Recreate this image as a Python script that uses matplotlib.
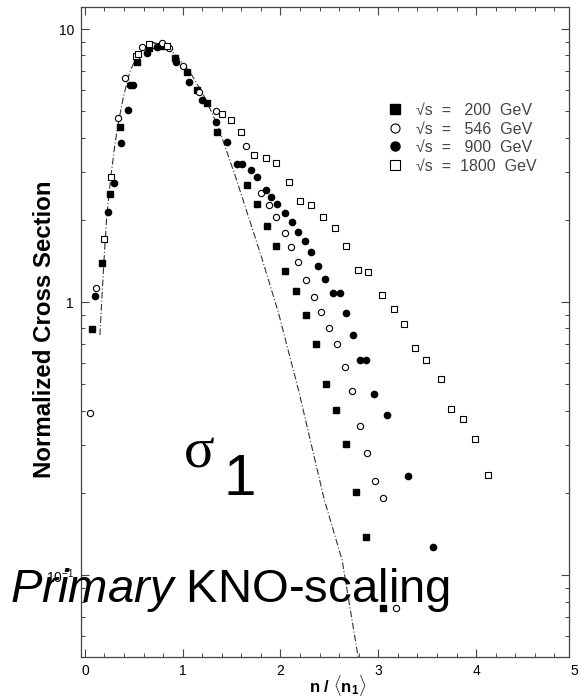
import matplotlib
matplotlib.use("Agg")
import matplotlib.pyplot as plt
from matplotlib.ticker import FixedLocator, FixedFormatter, LogLocator, MultipleLocator, NullFormatter

plt.rcParams['font.family'] = ['Liberation Sans', 'DejaVu Sans']
plt.rcParams['mathtext.fontset'] = 'custom'
plt.rcParams['mathtext.rm'] = 'Liberation Sans'
plt.rcParams['mathtext.it'] = 'Liberation Sans:italic'
plt.rcParams['mathtext.bf'] = 'Liberation Sans:bold'

# KNO fit curve (n/<n>, normalized cross section)
fit_x = [0.153, 0.173, 0.194, 0.224, 0.265, 0.306, 0.347, 0.398, 0.459, 0.531,
         0.612, 0.704, 0.786, 0.857, 0.959, 1.092, 1.235, 1.367, 1.541, 1.806,
         1.980, 2.184, 2.449, 2.630, 2.794]
fit_y = [0.757, 1.02, 1.40, 2.08, 2.87, 3.76, 4.64, 5.73, 6.96, 7.96,
         8.59, 8.89, 8.81, 8.51, 7.83, 6.79, 5.54, 4.34, 2.87, 1.46,
         0.911, 0.476, 0.188, 0.1135, 0.0501]

# sqrt(s) = 200 GeV
x200 = [0.071, 0.173, 0.255, 0.357, 0.531, 0.653, 0.776, 0.918, 1.041, 1.143,
        1.245, 1.347, 1.653, 1.755, 1.857, 1.959, 2.051, 2.163, 2.265, 2.367,
        2.469, 2.571, 2.673, 2.776, 2.878, 3.051]
y200 = [0.796, 1.39, 2.49, 4.38, 7.57, 8.52, 8.67, 7.83, 6.96, 5.98,
        5.36, 4.20, 2.68, 2.29, 1.90, 1.60, 1.30, 1.10, 0.896, 0.702,
        0.501, 0.402, 0.302, 0.201, 0.138, 0.0757]

# sqrt(s) = 546 GeV
x546 = [0.051, 0.112, 0.337, 0.408, 0.582, 0.684, 0.786, 0.857, 1.000, 1.163,
        1.337, 1.643, 1.796, 1.878, 1.959, 2.041, 2.112, 2.184, 2.265, 2.347,
        2.418, 2.500, 2.582, 2.663, 2.735, 2.816, 2.888, 2.969, 3.051, 3.184]
y546 = [0.392, 1.13, 4.72, 6.62, 8.59, 8.74, 8.89, 8.51, 7.32, 5.88,
        5.01, 3.73, 2.51, 2.27, 2.05, 1.79, 1.59, 1.40, 1.20, 1.04,
        0.919, 0.803, 0.702, 0.578, 0.472, 0.352, 0.280, 0.221, 0.191, 0.0757]

# sqrt(s) = 900 GeV
x900 = [0.102, 0.235, 0.296, 0.367, 0.439, 0.459, 0.490, 0.633, 0.735, 0.929,
        1.061, 1.194, 1.337, 1.449, 1.551, 1.602, 1.694, 1.755, 1.847, 1.898,
        1.969, 2.051, 2.122, 2.184, 2.255, 2.316, 2.388, 2.459, 2.541, 2.612,
        2.673, 2.745, 2.816, 2.878, 2.959, 3.092, 3.306, 3.561]
y900 = [1.05, 2.14, 2.73, 3.82, 5.05, 6.24, 6.24, 8.17, 8.59, 7.57,
        6.40, 5.50, 4.56, 3.85, 3.20, 3.20, 3.04, 2.87, 2.57, 2.42,
        2.29, 2.12, 1.96, 1.80, 1.67, 1.52, 1.36, 1.21, 1.08, 1.08,
        0.911, 0.757, 0.613, 0.613, 0.460, 0.385, 0.231, 0.127]

# sqrt(s) = 1800 GeV
x1800 = [0.194, 0.265, 0.520, 0.541, 0.653, 0.837, 1.398, 1.490, 1.592, 1.724,
         1.847, 1.959, 2.082, 2.204, 2.316, 2.439, 2.561, 2.673, 2.796, 2.898,
         3.041, 3.163, 3.265, 3.378, 3.490, 3.643, 3.745, 3.867, 3.990, 4.122]
y1800 = [1.70, 2.87, 7.96, 8.10, 8.81, 8.67, 4.88, 4.64, 4.20, 3.45,
         3.37, 3.23, 2.75, 2.34, 2.27, 2.05, 1.87, 1.60, 1.31, 1.29,
         1.06, 0.943, 0.831, 0.679, 0.613, 0.523, 0.406, 0.373, 0.315, 0.232]

x_ticks = [0, 1, 2, 3, 4]

fig = plt.figure(figsize=(5.79, 7), dpi=100)
ax = fig.add_axes([0.1399, 0.0614, 0.8428, 0.9286])

ax.plot(fit_x, fit_y, color='#333333', lw=0.8, linestyle=(0, (6, 2, 1, 2)))

ax.plot(x200, y200, 's', color='black', ms=4.8, mec='black', label='√s  =   200  GeV')
ax.plot(x546, y546, 'o', mfc='white', mec='black', mew=0.8, ms=4.5, label='√s  =   546  GeV')
ax.plot(x900, y900, 'o', color='black', ms=4.5, label='√s  =   900  GeV')
ax.plot(x1800, y1800, 's', mfc='white', mec='black', mew=0.8, ms=4.5, label='√s  =  1800  GeV')

ax.set_yscale('log')
ax.set_xlim(-0.04, 4.95)
ax.set_ylim(0.0501, 12.04)

# axis frame and ticks
for sp in ax.spines.values():
    sp.set_linewidth(0.9)
    sp.set_color('#444444')
ax.tick_params(which='both', direction='in', top=True, right=True, color='#444444')
ax.tick_params(which='major', length=6, width=0.8, labelsize=10, pad=5)
ax.tick_params(which='minor', length=3, width=0.7)

ax.xaxis.set_major_locator(FixedLocator(x_ticks))
ax.xaxis.set_minor_locator(MultipleLocator(0.2))
ax.yaxis.set_major_locator(FixedLocator([0.1, 1, 10]))
ax.yaxis.set_major_formatter(FixedFormatter(['10$^{-1}$', '1', '10']))
ax.yaxis.set_minor_locator(LogLocator(base=10, subs=range(2, 10)))
ax.yaxis.set_minor_formatter(NullFormatter())

# the last x label sits just past the right edge of the frame
ax.annotate('5', xy=(5, 0), xycoords=('data', 'axes fraction'), xytext=(0, -5),
            textcoords='offset points', ha='center', va='top', fontsize=10,
            annotation_clip=False)

leg = ax.legend(loc='upper left', bbox_to_anchor=(0.668, 0.853), bbox_transform=fig.transFigure,
                frameon=False, handlelength=1.0, handletextpad=0.8, labelspacing=0.22,
                borderpad=0, borderaxespad=0, fontsize=11.5, markerscale=1.45)
for t in leg.get_texts():
    t.set_color('#444444')

fig.text(45 / 579, 1 - 329 / 700, 'Normalized Cross Section', rotation=90,
         ha='center', va='center', fontsize=17.3, fontweight='bold')
fig.text(338 / 579, 1 - 686 / 700, r'$\mathbf{n\ /\ \langle n_1 \rangle}$',
         ha='center', va='center', fontsize=12)

# overlay annotations
fig.text(184 / 579, 1 - 467 / 700, 'σ', family='Liberation Serif', fontsize=41, va='baseline')
fig.text(223 / 579, 1 - 495 / 700, '1', fontsize=42, va='baseline')
fig.text(10 / 579, 1 - 602 / 700, r'$\mathit{Primary}$ KNO-scaling', fontsize=34, va='baseline')

fig.savefig('out.png', dpi=100)
